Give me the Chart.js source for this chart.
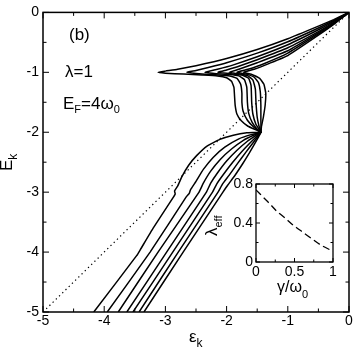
<!DOCTYPE html>
<html>
<head>
<meta charset="utf-8">
<script src="https://cdn.jsdelivr.net/npm/chart.js@4.4.0/dist/chart.umd.min.js"></script>
<style>
  html, body { margin: 0; padding: 0; background: #fff; }
  #wrap { position: relative; width: 354px; height: 350px; }
  #main { position: absolute; left: 0; top: 0; }
  #inset { position: absolute; left: 200px; top: 170px; }
</style>
</head>
<body>
<div id="wrap">
  <canvas id="main" width="354" height="350"></canvas>
  <canvas id="inset" width="150" height="140"></canvas>
</div>
<script>
// dispersion curves E_k(eps_k), one per damping value, [eps, E]
const curve0 = [[0,0],[-0.25,-0.12],[-0.5,-0.23],[-1,-0.44],[-1.5,-0.62],[-2,-0.77],[-2.5,-0.89],[-2.8,-0.95],[-3.0,-0.98],[-3.12,-1.0],
  [-3.0,-1.015],[-2.7,-1.03],[-2.4,-1.045],[-2.15,-1.06],[-2.0,-1.09],[-1.92,-1.15],[-1.88,-1.25],[-1.87,-1.4],[-1.86,-1.55],[-1.83,-1.7],[-1.76,-1.81],[-1.65,-1.9],[-1.52,-1.96],[-1.44,-2.0],
  [-1.67,-2.01],[-1.89,-2.05],[-2.11,-2.12],[-2.32,-2.23],[-2.49,-2.39],[-2.62,-2.55],[-2.73,-2.74],[-2.8,-2.9],[-2.85,-2.98],[-2.84,-3.03],[-2.88,-3.1],[-3.2,-3.6],[-3.41,-3.96],[-3.47,-4.06],[-4.17,-5]];
const curve1 = [[0,0],[-0.25,-0.135],[-0.5,-0.26],[-1,-0.49],[-1.5,-0.68],[-2,-0.84],[-2.3,-0.92],[-2.5,-0.97],[-2.65,-1.0],
  [-2.5,-1.02],[-2.2,-1.04],[-1.95,-1.06],[-1.83,-1.1],[-1.77,-1.2],[-1.75,-1.35],[-1.75,-1.5],[-1.73,-1.65],[-1.66,-1.8],[-1.55,-1.92],[-1.44,-2.0],
  [-1.6,-2.04],[-1.8,-2.11],[-2.03,-2.25],[-2.22,-2.42],[-2.38,-2.62],[-2.5,-2.82],[-2.59,-2.96],[-2.61,-3.02],[-2.66,-3.08],[-3.25,-4.0],[-3.95,-5]];
const curve2 = [[0,0],[-0.25,-0.15],[-0.5,-0.29],[-1,-0.54],[-1.5,-0.74],[-1.9,-0.88],[-2.15,-0.95],[-2.35,-1.0],
  [-2.2,-1.02],[-1.95,-1.035],[-1.8,-1.06],[-1.71,-1.12],[-1.67,-1.25],[-1.66,-1.5],[-1.64,-1.68],[-1.58,-1.84],[-1.5,-1.95],[-1.44,-2.0],
  [-1.56,-2.05],[-1.72,-2.13],[-1.92,-2.28],[-2.1,-2.45],[-2.26,-2.65],[-2.38,-2.85],[-2.45,-3.0],[-3.12,-4.0],[-3.77,-5]];
const curve3 = [[0,0],[-0.25,-0.165],[-0.5,-0.32],[-1,-0.59],[-1.5,-0.79],[-1.8,-0.9],[-2.0,-0.96],[-2.14,-1.0],
  [-1.95,-1.02],[-1.75,-1.045],[-1.64,-1.1],[-1.6,-1.22],[-1.59,-1.5],[-1.57,-1.7],[-1.52,-1.87],[-1.44,-2.0],
  [-1.53,-2.06],[-1.66,-2.15],[-1.83,-2.3],[-2.0,-2.48],[-2.15,-2.68],[-2.26,-2.85],[-2.33,-3.0],[-2.98,-4.0],[-3.63,-5]];
const curve4 = [[0,0],[-0.25,-0.18],[-0.5,-0.34],[-1,-0.64],[-1.5,-0.84],[-1.8,-0.95],[-1.96,-1.0],
  [-1.8,-1.025],[-1.65,-1.06],[-1.57,-1.13],[-1.53,-1.28],[-1.52,-1.5],[-1.5,-1.75],[-1.47,-1.9],[-1.44,-2.0],
  [-1.51,-2.07],[-1.61,-2.17],[-1.75,-2.32],[-1.9,-2.5],[-2.05,-2.7],[-2.16,-2.86],[-2.23,-3.0],[-2.88,-4.0],[-3.53,-5]];
const curve5 = [[0,0],[-0.25,-0.19],[-0.5,-0.36],[-1,-0.68],[-1.4,-0.86],[-1.65,-0.95],[-1.83,-1.0],
  [-1.68,-1.03],[-1.55,-1.08],[-1.48,-1.17],[-1.45,-1.32],[-1.44,-1.55],[-1.44,-1.8],[-1.44,-2.0],
  [-1.49,-2.07],[-1.57,-2.18],[-1.69,-2.34],[-1.82,-2.52],[-1.96,-2.72],[-2.07,-2.87],[-2.14,-3.0],[-2.79,-4.0],[-3.43,-5]];
const curve6 = [[0,0],[-0.25,-0.2],[-0.5,-0.38],[-1,-0.72],[-1.3,-0.85],[-1.55,-0.95],[-1.72,-1.0],
  [-1.58,-1.04],[-1.46,-1.1],[-1.39,-1.2],[-1.36,-1.35],[-1.37,-1.55],[-1.4,-1.75],[-1.43,-1.9],[-1.44,-2.0],
  [-1.48,-2.08],[-1.54,-2.19],[-1.63,-2.35],[-1.74,-2.53],[-1.87,-2.73],[-1.98,-2.88],[-2.06,-3.0],[-2.71,-4.0],[-3.35,-5]];
const freeLine = [[-5,-5],[0,0]];

// inset: lambda_eff vs gamma/omega_0
const gammaVals = [0, 0.1, 0.2, 0.27, 0.38, 0.48, 0.6, 0.74, 0.85, 1.0];
const lambdaEff = [0.74, 0.66, 0.58, 0.52, 0.45, 0.38, 0.31, 0.23, 0.17, 0.11];

const xTicks = [-5, -4, -3, -2, -1, 0];
const xMinorTicks = [-4.5, -3.5, -2.5, -1.5, -0.5];
const yTicks = [-5, -4, -3, -2, -1, 0];
const yMinorTicks = [-4.5, -3.5, -2.5, -1.5, -0.5];
const insetXTicks = [0, 0.5, 1];
const insetXMinor = [0.25, 0.75];
const insetYTicks = [0, 0.4, 0.8];
const insetYMinor = [0.2, 0.6];

const FONT = "'Liberation Sans', Arial, sans-serif";

function toXY(arr) { return arr.map(p => ({ x: p[0], y: p[1] })); }

// text with a subscript, drawn from a left baseline point
function subText(ctx, x, y, main, sub, size, subSize, drop, tail) {
  ctx.font = size + 'px ' + FONT;
  ctx.fillText(main, x, y);
  let w = ctx.measureText(main).width;
  ctx.font = subSize + 'px ' + FONT;
  ctx.fillText(sub, x + w, y + drop);
  w += ctx.measureText(sub).width;
  if (tail) {
    ctx.font = size + 'px ' + FONT;
    ctx.fillText(tail, x + w, y);
    w += ctx.measureText(tail).width;
  }
  return w;
}

function frame(chart, major, minor, yMajor, yMinor, lMaj, lMin, lw) {
  const { ctx, chartArea: a, scales } = chart;
  ctx.save();
  ctx.strokeStyle = '#000';
  ctx.lineWidth = lw;
  ctx.strokeRect(a.left, a.top, a.right - a.left, a.bottom - a.top);
  ctx.lineWidth = 1;
  ctx.beginPath();
  const tx = (v, l) => {
    const p = scales.x.getPixelForValue(v);
    ctx.moveTo(p, a.bottom); ctx.lineTo(p, a.bottom - l);
    ctx.moveTo(p, a.top); ctx.lineTo(p, a.top + l);
  };
  const ty = (v, l) => {
    const p = scales.y.getPixelForValue(v);
    ctx.moveTo(a.left, p); ctx.lineTo(a.left + l, p);
    ctx.moveTo(a.right, p); ctx.lineTo(a.right - l, p);
  };
  major.forEach(v => tx(v, lMaj));
  minor.forEach(v => tx(v, lMin));
  yMajor.forEach(v => ty(v, lMaj));
  yMinor.forEach(v => ty(v, lMin));
  ctx.stroke();
  ctx.restore();
}

const mainDecor = {
  id: 'mainDecor',
  afterDraw(chart) {
    frame(chart, xTicks, xMinorTicks, yTicks, yMinorTicks, 6, 3.5, 1.5);
    const ctx = chart.ctx;
    ctx.save();
    ctx.fillStyle = '#000';
    ctx.textBaseline = 'alphabetic';
    ctx.textAlign = 'left';
    ctx.font = '17px ' + FONT;
    ctx.fillText('(b)', 69, 40);
    ctx.fillText('λ=1', 65, 77);
    // E_F=4ω_0
    let w = subText(ctx, 63, 109, 'E', 'F', 17, 11, 4, '=4ω');
    ctx.font = '11px ' + FONT;
    ctx.fillText('0', 63 + w, 113);
    // axis titles
    subText(ctx, 189, 342, 'ε', 'k', 17, 12, 5);
    ctx.translate(12, 163);
    ctx.rotate(-Math.PI / 2);
    subText(ctx, -8, 0, 'E', 'k', 17, 12, 5);
    ctx.restore();
  }
};

const insetDecor = {
  id: 'insetDecor',
  afterDraw(chart) {
    frame(chart, insetXTicks, insetXMinor, insetYTicks, insetYMinor, 4, 2.5, 1.3);
    const ctx = chart.ctx;
    ctx.save();
    ctx.fillStyle = '#000';
    ctx.textAlign = 'left';
    ctx.textBaseline = 'alphabetic';
    subText(ctx, 77, 122, 'γ/ω', '0', 16, 11, 6);
    ctx.translate(17, 66);
    ctx.rotate(-Math.PI / 2);
    subText(ctx, 0, 0, 'λ', 'eff', 17, 11, 5);
    ctx.restore();
  }
};

const tickFont = { family: FONT, size: 14 };
const plainLabel = v => String(v);

new Chart(document.getElementById('main'), {
  type: 'scatter',
  data: {
    datasets: [curve0, curve1, curve2, curve3, curve4, curve5, curve6].map(c => ({
      data: toXY(c), showLine: true, borderColor: '#000', borderWidth: 1.5,
      pointRadius: 0, tension: 0.12
    })).concat([{
      data: toXY(freeLine), showLine: true, borderColor: '#000', borderWidth: 1.2,
      borderDash: [1.3, 3.2], pointRadius: 0
    }])
  },
  options: {
    responsive: false, animation: false, events: [],
    layout: { padding: { top: 8, right: 5, left: 0, bottom: 0 } },
    plugins: { legend: { display: false }, tooltip: { enabled: false } },
    scales: {
      x: {
        type: 'linear', min: -5, max: 0,
        afterBuildTicks: s => { s.ticks = xTicks.map(v => ({ value: v })); },
        afterFit: s => { s.height = 38; },
        grid: { display: false, drawTicks: false }, border: { display: false },
        ticks: { color: '#000', font: tickFont, padding: 1, maxRotation: 0, autoSkip: false, callback: plainLabel }
      },
      y: {
        type: 'linear', min: -5, max: 0,
        afterBuildTicks: s => { s.ticks = yTicks.map(v => ({ value: v })); },
        afterFit: s => { s.width = 43; },
        grid: { display: false, drawTicks: false }, border: { display: false },
        ticks: { color: '#000', font: tickFont, padding: 4, autoSkip: false, callback: plainLabel }
      }
    }
  },
  plugins: [mainDecor]
});

new Chart(document.getElementById('inset'), {
  type: 'scatter',
  data: {
    datasets: [{
      data: gammaVals.map((g, i) => ({ x: g, y: lambdaEff[i] })), showLine: true,
      borderColor: '#000', borderWidth: 1.3, borderDash: [7, 4], pointRadius: 0, tension: 0.3
    }]
  },
  options: {
    responsive: false, animation: false, events: [],
    layout: { padding: { top: 14, right: 17, left: 0, bottom: 0 } },
    plugins: { legend: { display: false }, tooltip: { enabled: false } },
    scales: {
      x: {
        type: 'linear', min: 0, max: 1,
        afterBuildTicks: s => { s.ticks = insetXTicks.map(v => ({ value: v })); },
        afterFit: s => { s.height = 48; },
        grid: { display: false, drawTicks: false }, border: { display: false },
        ticks: { color: '#000', font: tickFont, padding: 2, maxRotation: 0, autoSkip: false, callback: plainLabel }
      },
      y: {
        type: 'linear', min: 0, max: 0.8,
        afterBuildTicks: s => { s.ticks = insetYTicks.map(v => ({ value: v })); },
        afterFit: s => { s.width = 56; },
        grid: { display: false, drawTicks: false }, border: { display: false },
        ticks: { color: '#000', font: tickFont, padding: 3, autoSkip: false, callback: plainLabel }
      }
    }
  },
  plugins: [insetDecor]
});
</script>
</body>
</html>
